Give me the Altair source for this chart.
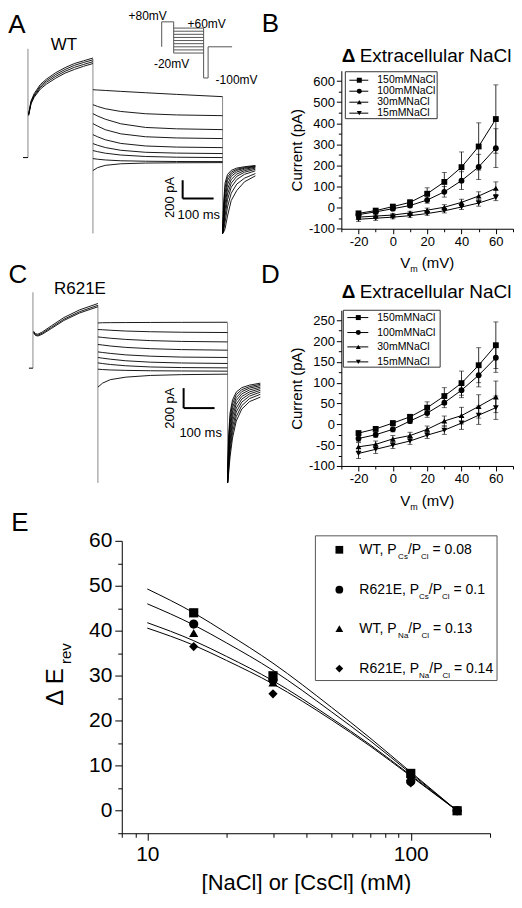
import altair as alt
import pandas as pd

FONT = "Liberation Sans"

# ---------------- Panel A (WT) current traces: time in ms, current in pA ----------------
A_PRE_T = [2, 10, 20, 40, 60, 90, 120, 150, 180, 210]
A_PRE = [
    [480, 620, 700, 800, 860, 930, 985, 1030, 1060, 1090],
    [472, 608, 685, 783, 843, 910, 965, 1010, 1042, 1070],
    [466, 598, 672, 767, 825, 890, 945, 988, 1020, 1050],
    [460, 590, 660, 750, 805, 870, 925, 965, 1000, 1030],
]
TEST_T = [210, 225, 250, 300, 380, 480, 629]
A_TEST = [
    [743, 740, 735, 725, 710, 692, 667],
    [579, 560, 535, 505, 480, 467, 459],
    [481, 455, 420, 370, 330, 315, 306],
    [372, 345, 305, 260, 228, 215, 208],
    [251, 228, 195, 155, 127, 115, 109],
    [153, 135, 110, 80, 58, 49, 44],
    [77, 65, 48, 28, 12, 4, 0],
    [-11, -18, -26, -35, -40, -43, -44],
    [-142, -110, -85, -68, -60, -57, -55],
]
TAIL_T = [629, 632, 637, 645, 657, 675, 700, 735]
A_TAIL = [
    [-831, -520, -280, -185, -140, -115, -100, -87],
    [-831, -580, -330, -215, -160, -128, -108, -92],
    [-831, -640, -390, -250, -180, -140, -117, -98],
    [-831, -690, -450, -295, -205, -158, -128, -105],
    [-831, -730, -510, -345, -240, -180, -143, -115],
    [-831, -760, -570, -400, -280, -205, -160, -128],
    [-831, -785, -640, -460, -325, -240, -183, -145],
    [-831, -805, -710, -540, -390, -290, -225, -175],
    [-831, -820, -780, -640, -470, -360, -265, -200],
]
TRANS_T = [0, 210, 629]
A_TRANS_TOP = [1191, 1082, 667]
A_TRANS_BOT = [0, -831, -831]

# ---------------- Panel C (R621E) current traces ----------------
C_PRE_T = [2, 8, 16, 30, 60, 100, 150, 210]
C_PRE = [
    [370, 345, 340, 362, 425, 507, 583, 648],
    [360, 335, 330, 350, 410, 490, 565, 630],
    [355, 328, 322, 340, 398, 478, 552, 615],
]
C_TEST = [
    [453, 455, 456, 457, 458, 459, 460],
    [387, 385, 380, 372, 365, 360, 357],
    [313, 308, 300, 288, 276, 268, 263],
    [237, 232, 222, 208, 195, 186, 180],
    [163, 157, 148, 133, 120, 111, 107],
    [107, 100, 90, 74, 60, 52, 47],
    [53, 46, 37, 24, 12, 6, 3],
    [-10, -14, -18, -22, -26, -28, -30],
    [-190, -150, -115, -90, -73, -65, -60],
]
C_TAIL = [
    [-1150, -700, -450, -320, -240, -195, -170, -150],
    [-1150, -760, -500, -355, -265, -215, -185, -162],
    [-1150, -820, -555, -395, -295, -235, -200, -175],
    [-1150, -870, -610, -440, -325, -258, -218, -190],
    [-1150, -910, -665, -485, -360, -283, -238, -205],
    [-1150, -950, -720, -535, -400, -310, -258, -222],
    [-1150, -990, -775, -590, -440, -340, -280, -240],
    [-1150, -1030, -830, -645, -485, -375, -305, -262],
    [-1150, -1070, -890, -700, -530, -410, -335, -290],
]
C_TRANS_TOP = [760, 630, 453]
C_TRANS_BOT = [0, -1150, -1150]

# ---------------- voltage protocol (inset of A) ----------------
PROTO_T = [0, 40, 140, 155, 235]          # prepulse, test, tail, hold, end
PROTO_PRE, PROTO_TAIL, PROTO_HOLD = 80, -100, 0
PROTO_STEPS = [-20, -10, 0, 10, 20, 30, 40, 50, 60]
PROTO_LABELS = ["+80mV", "+60mV", "-20mV", "-100mV"]
PROTO_LAB_T = [-47, 150, 33, 250]
PROTO_LAB_V = [99, 72, -54, -106]

# ---------------- Panels B / D : I-V ----------------
IV_V = [-20, -10, 0, 10, 20, 30, 40, 50, 60]
SERIES = ["150mMNaCl", "100mMNaCl", "30mMNaCl", "15mMNaCl"]
IV_SHAPES = ["square", "circle", "triangle-up", "triangle-down"]
B_I = {
    "150mMNaCl": [-27, -14, 5, 25, 66, 122, 192, 290, 420],
    "100mMNaCl": [-33, -20, -5, 10, 36, 75, 128, 193, 282],
    "30mMNaCl": [-45, -40, -35, -25, -12, 2, 25, 55, 92],
    "15mMNaCl": [-55, -50, -45, -38, -28, -15, 3, 22, 48],
}
B_ERR = {
    "150mMNaCl": [8, 8, 10, 12, 28, 45, 72, 112, 162],
    "100mMNaCl": [8, 8, 8, 10, 15, 25, 42, 60, 92],
    "30mMNaCl": [10, 8, 8, 8, 10, 12, 15, 20, 30],
    "15mMNaCl": [10, 10, 8, 8, 8, 10, 12, 15, 15],
}
D_I = {
    "150mMNaCl": [-21, -11, 3, 18, 40, 68, 99, 142, 190],
    "100mMNaCl": [-34, -25, -12, 8, 27, 52, 82, 118, 160],
    "30mMNaCl": [-54, -48, -35, -27, -12, 8, 21, 43, 66],
    "15mMNaCl": [-70, -60, -50, -40, -26, -14, 3, 22, 40],
}
D_ERR = {
    "150mMNaCl": [5, 5, 5, 6, 14, 20, 29, 42, 56],
    "100mMNaCl": [8, 6, 6, 6, 10, 12, 18, 28, 35],
    "30mMNaCl": [10, 8, 8, 8, 8, 12, 20, 28, 38],
    "15mMNaCl": [12, 10, 8, 8, 8, 10, 15, 22, 28],
}

# ---------------- Panel E ----------------
E_SER = ["WT Cs", "R621E Cs", "WT Na", "R621E Na"]
E_SHAPES = ["square", "circle", "triangle-up", "diamond"]
E_C = [15, 30, 100, 150]
E_PTS = {
    "WT Cs": [44.0, 30.0, 8.3, 0],
    "R621E Cs": [41.5, 29.0, 6.5, 0],
    "WT Na": [39.5, 28.5, 7.5, 0],
    "R621E Na": [36.5, 26.0, 6.2, 0],
}
E_FIT_C = [10, 15, 20, 30, 50, 70, 100, 150]
E_FIT = {
    "WT Cs": [49.3, 44.0, 39.5, 32.8, 23.0, 16.2, 8.6, 0],
    "R621E Cs": [46.0, 41.3, 37.3, 31.2, 22.0, 15.6, 8.3, 0],
    "WT Na": [41.8, 37.8, 34.3, 28.9, 20.6, 14.7, 7.9, 0],
    "R621E Na": [40.6, 36.8, 33.4, 28.2, 20.2, 14.4, 7.7, 0],
}
E_LEG = [
    [("WT, P", 14, 0), ("Cs", 8, 4.5), ("/P", 14, 0), ("Cl", 8, 4.5), (" = 0.08", 14, 0)],
    [("R621E, P", 14, 0), ("Cs", 8, 4.5), ("/P", 14, 0), ("Cl", 8, 4.5), (" = 0.1", 14, 0)],
    [("WT, P", 14, 0), ("Na", 8, 4.5), ("/P", 14, 0), ("Cl", 8, 4.5), (" = 0.13", 14, 0)],
    [("R621E, P", 14, 0), ("Na", 8, 4.5), ("/P", 14, 0), ("Cl", 8, 4.5), (" = 0.14", 14, 0)],
]

# ---------------- helpers ----------------
AW = {" ": 278, ",": 278, ".": 278, "/": 278, "=": 584, "(": 333, ")": 333, "-": 333,
      "W": 944, "T": 611, "P": 667, "C": 722, "R": 722, "E": 667, "N": 722, "V": 667,
      "M": 833, "s": 500, "l": 222, "a": 556, "m": 833}


def tw(s, fs):
    return sum(AW.get(ch, 556) for ch in s) * fs / 1000.0


def pieces(x0, base, parts):
    rows, x = [], x0
    for txt, fs, dy in parts:
        lead = len(txt) - len(txt.lstrip(" "))
        rows.append({"px": x + tw(" ", fs) * lead, "py": base + dy, "txt": txt.strip(), "fs": fs})
        x += tw(txt, fs)
    return rows


def P(f):
    return alt.X(f + ":Q", scale=None, axis=None)


def PY(f):
    return alt.Y(f + ":Q", scale=None, axis=None)


def piece_layer(rows):
    return alt.Chart(pd.DataFrame(rows)).mark_text(align="left", baseline="alphabetic", color="black").encode(
        x=P("px"), y=PY("py"), text="txt:N", size=alt.Size("fs:Q", scale=None, legend=None))


def label(txt, x, y, fs=26, angle=0, baseline="middle", align="center", weight="normal"):
    return alt.Chart(pd.DataFrame({"a": [0]})).mark_text(
        fontSize=fs, color="black", align=align, baseline=baseline, angle=angle, fontWeight=weight).encode(
        x=alt.value(x), y=alt.value(y), text=alt.value(txt))


def trace_panel(pre_t, pre, test, tail, trans_top, trans_bot, tick_t0, bar, notes, xdom, ydom, h, letter, lxy, extra=None):
    rows = []
    for k, ys in enumerate(pre):
        rows += [{"trace": f"p{k}", "t": t, "I": v} for t, v in zip(pre_t, ys)]
    for k, ys in enumerate(test):
        rows += [{"trace": f"s{k}", "t": t, "I": v} for t, v in zip(TEST_T, ys)]
    for k, ys in enumerate(tail):
        rows += [{"trace": f"r{k}", "t": t, "I": v} for t, v in zip(TAIL_T, ys)]
    df = pd.DataFrame(rows)
    xs = alt.Scale(domain=xdom, nice=False, zero=False)
    ys_ = alt.Scale(domain=ydom, nice=False, zero=False)

    def X(f):
        return alt.X(f + ":Q", scale=xs, axis=None)

    def Y(f):
        return alt.Y(f + ":Q", scale=ys_, axis=None)

    traces = alt.Chart(df).mark_line(color="black", strokeWidth=0.9).encode(x=X("t"), y=Y("I"), detail="trace:N")
    trans = alt.Chart(pd.DataFrame({"t": TRANS_T, "top": trans_top, "bot": trans_bot})).mark_rule(
        color="#8a8a8a", strokeWidth=1).encode(x=X("t"), y=Y("top"), y2="bot:Q")
    base = alt.Chart(pd.DataFrame({"t1": [tick_t0], "t2": [0], "I": [0]})).mark_rule(color="black").encode(
        x=X("t1"), x2="t2:Q", y=Y("I"))
    t0, i0 = bar
    bars = alt.Chart(pd.DataFrame({"x1": [t0, t0], "x2": [t0, t0 + 100], "y1": [i0, i0], "y2": [i0 + 200, i0]})).mark_rule(
        color="black", strokeWidth=2).encode(x=X("x1"), x2="x2:Q", y=Y("y1"), y2="y2:Q")
    nt = alt.Chart(pd.DataFrame(notes)).mark_text(color="black", baseline="middle").encode(
        x=X("t"), y=Y("I"), text="txt:N", size=alt.Size("fs:Q", scale=None, legend=None),
        angle=alt.Angle("ang:Q", scale=None))
    layer = alt.layer(trans, base, traces, bars, nt, label(letter, lxy[0], lxy[1]))
    if extra is not None:
        layer = alt.layer(layer, extra).resolve_scale(x="independent", y="independent")
    return layer.properties(width=280, height=h)


def protocol():
    rows = []
    seg1 = [(PROTO_T[0], PROTO_HOLD), (PROTO_T[0], PROTO_PRE), (PROTO_T[1], PROTO_PRE), (PROTO_T[1], PROTO_STEPS[0])]
    rows += [{"seg": "o1", "o": i, "tp": t, "V": v} for i, (t, v) in enumerate(seg1)]
    for k, v in enumerate(PROTO_STEPS):
        rows += [{"seg": f"s{k}", "o": 0, "tp": PROTO_T[1], "V": v}, {"seg": f"s{k}", "o": 1, "tp": PROTO_T[2], "V": v}]
    seg2 = [(PROTO_T[2], PROTO_STEPS[-1]), (PROTO_T[2], PROTO_TAIL), (PROTO_T[3], PROTO_TAIL),
            (PROTO_T[3], PROTO_HOLD), (PROTO_T[4], PROTO_HOLD)]
    rows += [{"seg": "o2", "o": i, "tp": t, "V": v} for i, (t, v) in enumerate(seg2)]
    xs = alt.Scale(domain=[-470, 463.3], nice=False, zero=False)
    ys = alt.Scale(domain=[-601.6, -76.8], nice=False, zero=False)
    lines = alt.Chart(pd.DataFrame(rows)).mark_line(color="#555555", strokeWidth=1).encode(
        x=alt.X("tp:Q", scale=xs, axis=None), y=alt.Y("V:Q", scale=ys, axis=None),
        detail="seg:N", order="o:Q")
    txt = alt.Chart(pd.DataFrame({"txt": PROTO_LABELS, "tp": PROTO_LAB_T, "V": PROTO_LAB_V})).mark_text(
        fontSize=12, color="black", baseline="middle").encode(
        x=alt.X("tp:Q", scale=xs, axis=None), y=alt.Y("V:Q", scale=ys, axis=None), text="txt:N")
    return alt.layer(lines, txt)


def dash(test, minor_len):
    return {"condition": {"test": test, "value": [30, 0]}, "value": [minor_len, 30]}


def iv_panel(vals, errs, ydom, minor, major, h, lxy, ty, leg, vm_base):
    rows = []
    for s in SERIES:
        for v, i, e in zip(IV_V, vals[s], errs[s]):
            rows.append({"series": s, "V": v, "I": i, "lo": i - e, "hi": i + e})
    df = pd.DataFrame(rows)
    xs = alt.Scale(domain=[-30, 70], nice=False, zero=False)
    ys = alt.Scale(domain=ydom, nice=False, zero=False)
    xax = alt.Axis(values=list(range(-30, 71, 10)),
                   labelExpr="datum.value % 20 === 0 ? '' + datum.value : ''",
                   tickSize=5, tickDash=dash("datum.value % 20 === 0", 3),
                   labelFontSize=13, labelPadding=2, labelOverlap=False, labelFlush=False, title=None)
    yax = alt.Axis(values=list(range(ydom[0], int(ydom[1]) + 1, minor)),
                   labelExpr=f"datum.value % {major} === 0 ? '' + datum.value : ''",
                   tickSize=5, tickDash=dash(f"datum.value % {major} === 0", 3),
                   labelFontSize=13, labelPadding=2, labelOverlap=False, labelFlush=False,
                   title="Current (pA)", titleFontSize=15, titlePadding=4)
    X = alt.X("V:Q", scale=xs, axis=xax)

    def Y(f):
        return alt.Y(f + ":Q", scale=ys, axis=yax)

    shape = alt.Shape("series:N", scale=alt.Scale(domain=SERIES, range=IV_SHAPES), legend=None)
    base = alt.Chart(df)
    err = base.mark_rule(color="black", strokeWidth=0.8).encode(x=X, y=Y("lo"), y2="hi:Q")
    cap_hi = base.mark_tick(orient="horizontal", size=5, thickness=0.8, color="black").encode(x=X, y=Y("hi"))
    cap_lo = base.mark_tick(orient="horizontal", size=5, thickness=0.8, color="black").encode(x=X, y=Y("lo"))
    line = base.mark_line(color="black", strokeWidth=1).encode(x=X, y=Y("I"), detail="series:N")
    pts = base.mark_point(filled=True, size=34, color="black", opacity=1).encode(x=X, y=Y("I"), shape=shape)
    lg = pd.DataFrame({"series": SERIES, "ly": leg["ly"]})
    for k in ["lx1", "lx2", "sx", "tx"]:
        lg[k] = leg[k]
    x1, x2, y1, y2 = leg["box"]
    box = alt.Chart(pd.DataFrame({"x1": [x1], "x2": [x2], "y1": [y1], "y2": [y2]})).mark_rect(
        fillOpacity=0, stroke="#333333", strokeWidth=1).encode(x=P("x1"), x2="x2:Q", y=PY("y1"), y2="y2:Q")
    lrule = alt.Chart(lg).mark_rule(color="black", strokeWidth=1).encode(x=P("lx1"), x2="lx2:Q", y=PY("ly"))
    lpts = alt.Chart(lg).mark_point(filled=True, size=25, color="black", opacity=1).encode(
        x=P("sx"), y=PY("ly"), shape=shape)
    ltxt = alt.Chart(lg).mark_text(align="left", baseline="middle", fontSize=10.5, color="black").encode(
        x=P("tx"), y=PY("ly"), text="series:N")
    vm = piece_layer(pieces(59, vm_base, [("V", 15, 0), ("m", 9, 4), (" (mV)", 15, 0)]))
    t_delta = label("\u0394", 7.3, ty, fs=19, weight="bold")
    t_rest = label("Extracellular NaCl", 18.4, ty, fs=19, align="left")
    return alt.layer(err, cap_hi, cap_lo, line, pts, box, lrule, lpts, ltxt, vm, t_delta, t_rest,
                     label(lxy[2], lxy[0], lxy[1])).properties(width=172, height=h)


def e_panel():
    prow = [{"series": s, "c": c, "dE": v} for s in E_SER for c, v in zip(E_C, E_PTS[s])]
    frow = [{"series": s, "c": c, "dE": v} for s in E_SER for c, v in zip(E_FIT_C, E_FIT[s])]
    xs = alt.Scale(type="log", domain=[8, 200], nice=False)
    ys = alt.Scale(domain=[-5, 60], nice=False, zero=False)
    maj = "datum.value == 10 || datum.value == 100"
    xax = alt.Axis(values=[8, 9, 10, 20, 30, 40, 50, 60, 70, 80, 90, 100, 200],
                   labelExpr=f"{maj} ? '' + datum.value : ''", tickSize=7, tickDash=dash(maj, 4),
                   labelFontSize=21, labelPadding=3, labelOverlap=False, labelFlush=False,
                   title="[NaCl] or [CsCl] (mM)", titleFontSize=22, titlePadding=8)
    yax = alt.Axis(values=list(range(-5, 61, 5)),
                   labelExpr="datum.value % 10 === 0 ? '' + datum.value : ''",
                   tickSize=7, tickDash=dash("datum.value % 10 === 0", 4),
                   labelFontSize=21, labelPadding=3, labelOverlap=False, labelFlush=False, title=None)
    X = alt.X("c:Q", scale=xs, axis=xax)
    Y = alt.Y("dE:Q", scale=ys, axis=yax)
    shape = alt.Shape("series:N", scale=alt.Scale(domain=E_SER, range=E_SHAPES), legend=None)
    lines = alt.Chart(pd.DataFrame(frow)).mark_line(color="black", strokeWidth=1, interpolate="monotone").encode(
        x=X, y=Y, detail="series:N")
    pts = alt.Chart(pd.DataFrame(prow)).mark_point(filled=True, size=85, color="black", opacity=1).encode(
        x=X, y=Y, shape=shape)
    ly = [9, 49, 88, 128]
    lg = pd.DataFrame({"series": E_SER, "ly": ly, "sx": [218] * 4})
    box = alt.Chart(pd.DataFrame({"x1": [194], "x2": [376], "y1": [-5], "y2": [140]})).mark_rect(
        fillOpacity=0, stroke="#555555", strokeWidth=1).encode(x=P("x1"), x2="x2:Q", y=PY("y1"), y2="y2:Q")
    lpts = alt.Chart(lg).mark_point(filled=True, size=60, color="black", opacity=1).encode(
        x=P("sx"), y=PY("ly"), shape=shape)
    prows = []
    for y, parts in zip(ly, E_LEG):
        prows += pieces(238, y + 4.5, parts)
    ltxt = piece_layer(prows)
    yt1 = label("\u0394 E", -59, 146.5, fs=24, angle=270, baseline="alphabetic")
    yt2 = label("rev", -51, 113, fs=15, angle=270, baseline="alphabetic")
    return alt.layer(lines, pts, box, lpts, ltxt, yt1, yt2, label("E", -102, -18)).properties(width=369, height=293)


A = trace_panel(A_PRE_T, A_PRE, A_TEST, A_TAIL, A_TRANS_TOP, A_TRANS_BOT, -16, (500, -448),
                [{"t": 116, "I": 1235, "txt": "WT", "fs": 17, "ang": 0},
                 {"t": 460, "I": -437, "txt": "200 pA", "fs": 13, "ang": 270},
                 {"t": 552, "I": -634, "txt": "100 ms", "fs": 13, "ang": 0}],
                [-22.58, 880.65], [-841.5, 950.8], 164, "A", (-4, -46), extra=protocol())
C = trace_panel(C_PRE_T, C_PRE, C_TEST, C_TAIL, C_TRANS_TOP, C_TRANS_BOT, -13, (487, -400),
                [{"t": 152, "I": 790, "txt": "R621E", "fs": 17, "ang": 0},
                 {"t": 442, "I": -400, "txt": "200 pA", "fs": 13, "ang": 270},
                 {"t": 542, "I": -650, "txt": "100 ms", "fs": 13, "ang": 0}],
                [-38.7, 864.5], [-980, 580], 156, "C", (-3, -35))
B = iv_panel(B_I, B_ERR, [-100, 649], 50, 100, 158.3, (-71, -47, "B"), -15,
             {"ly": [9.5, 20.5, 31.5, 42.5], "lx1": 8, "lx2": 27, "sx": 18, "tx": 36, "box": (4, 96, 1, 48)}, 198)
D = iv_panel(D_I, D_ERR, [-100, 274], 25, 50, 156, (-71, -35, "D"), -18,
             {"ly": [7.3, 22.3, 36.7, 51.7], "lx1": 6, "lx2": 27, "sx": 17, "tx": 36, "box": (2, 99, 0, 57)}, 196)
S = alt.Chart(pd.DataFrame({"a": [0]})).mark_point(opacity=0).encode(
    x=alt.value(0), y=alt.value(-38)).properties(width=60, height=10)
E = e_panel()

row1 = alt.hconcat(A, B, spacing=41, bounds="flush")
row2 = alt.hconcat(C, D, spacing=41, bounds="flush")
row3 = alt.hconcat(S, E, spacing=41, bounds="flush")
chart = alt.vconcat(row1, row2, row3, spacing=-12).resolve_scale(shape="independent")
chart = chart.configure(font=FONT).configure_view(stroke=None).configure_axis(
    grid=False, domainColor="black", tickColor="black", labelColor="black", titleColor="black",
    titleFontWeight="normal", domainWidth=1, tickWidth=1).properties(
    padding={"left": 0, "top": 1, "right": 0, "bottom": 0})

chart.save("out.html", embed_options={"renderer": "svg", "actions": False})
